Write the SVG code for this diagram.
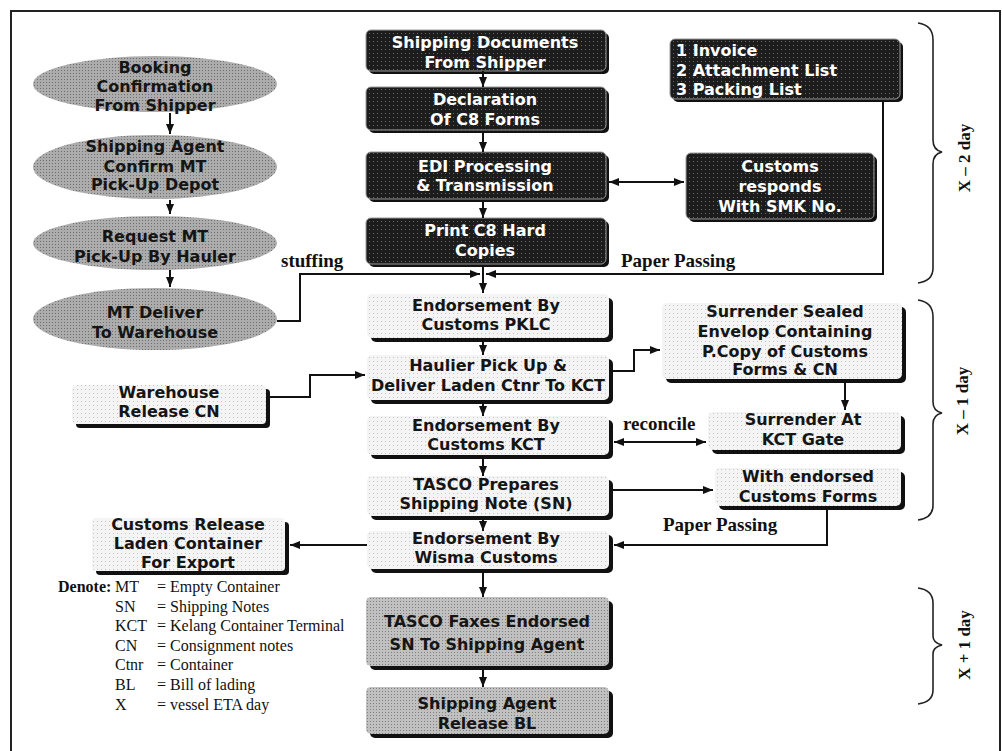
<svg xmlns="http://www.w3.org/2000/svg" width="1002" height="751" viewBox="0 0 1002 751">
<defs>
<pattern id="pDark" width="4" height="4" patternUnits="userSpaceOnUse">
<rect width="4" height="4" fill="#1c1c1c"/><rect x="1" y="1" width="1" height="1" fill="#6a6a6a"/>
</pattern>
<pattern id="pLight" width="4" height="4" patternUnits="userSpaceOnUse">
<rect width="4" height="4" fill="#f4f4f4"/><rect x="1" y="1" width="1" height="1" fill="#c4c4c4"/>
</pattern>
<pattern id="pGray" width="3" height="3" patternUnits="userSpaceOnUse">
<rect width="3" height="3" fill="#acacac"/><rect x="1" y="1" width="1" height="1" fill="#6e6e6e"/>
</pattern>
<pattern id="pMid" width="3" height="3" patternUnits="userSpaceOnUse">
<rect width="3" height="3" fill="#c0c0c0"/><rect x="1" y="1" width="1" height="1" fill="#808080"/>
</pattern>
<marker id="ah" viewBox="0 0 10 8" refX="10" refY="4" markerWidth="10" markerHeight="8" markerUnits="userSpaceOnUse" orient="auto-start-reverse">
<path d="M0,0 L10,4 L0,8 z" fill="#111"/>
</marker>
</defs>
<style>
.bt{font-family:"DejaVu Sans","Verdana",sans-serif;font-weight:bold;font-size:16px;text-anchor:middle}
.wt{fill:#fff}
.kt{fill:#151515}
.lt{font-family:"DejaVu Sans",sans-serif;font-weight:bold;font-size:16px;fill:#fff}
.sl{font-family:"Liberation Serif","Times New Roman",serif;font-weight:bold;font-size:19px;fill:#111}
.lg{font-family:"Liberation Serif","Times New Roman",serif;font-size:16px;fill:#111}
.br{font-family:"Liberation Serif","Times New Roman",serif;font-weight:bold;font-size:17px;fill:#111;text-anchor:middle}
.dark{fill:url(#pDark);stroke:#9a9a9a;stroke-width:1}
.dsh{fill:#111}
.light{fill:url(#pLight)}
.lsh{fill:#111}
.gray{fill:url(#pMid)}
.ell{fill:url(#pGray)}
.cn{fill:none;stroke:#111;stroke-width:2}
.brace{fill:none;stroke:#222;stroke-width:1.6}
.frame{fill:none;stroke:#222;stroke-width:2}
</style>
<rect width="1002" height="751" fill="#fff"/>
<path class="frame" d="M11,751 V11 H1000 V751"/>

<g id="booking">
<ellipse class="ell" cx="155" cy="84" rx="122" ry="28"/>
<text class="bt kt" x="155" y="73">Booking</text>
<text class="bt kt" x="155" y="92">Confirmation</text>
<text class="bt kt" x="155" y="111">From Shipper</text>
</g>
<g id="agent-confirm">
<ellipse class="ell" cx="155" cy="167" rx="122" ry="32"/>
<text class="bt kt" x="155" y="152">Shipping Agent</text>
<text class="bt kt" x="155" y="172">Confirm MT</text>
<text class="bt kt" x="155" y="190">Pick-Up Depot</text>
</g>
<g id="request-mt">
<ellipse class="ell" cx="155" cy="243" rx="122" ry="27"/>
<text class="bt kt" x="155" y="242">Request MT</text>
<text class="bt kt" x="155" y="262">Pick-Up By Hauler</text>
</g>
<g id="mt-deliver">
<ellipse class="ell" cx="155" cy="319" rx="122" ry="31"/>
<text class="bt kt" x="155" y="318">MT Deliver</text>
<text class="bt kt" x="155" y="338">To Warehouse</text>
</g>

<g id="shipping-docs">
<rect class="dsh" x="369" y="33" width="240" height="41" rx="5"/>
<rect class="dark" x="366" y="30" width="240" height="41" rx="5"/>
<text class="bt wt" x="485" y="48">Shipping Documents</text>
<text class="bt wt" x="485" y="68">From Shipper</text>
</g>
<g id="declaration">
<rect class="dsh" x="369" y="90" width="240" height="43" rx="5"/>
<rect class="dark" x="366" y="87" width="240" height="43" rx="5"/>
<text class="bt wt" x="485" y="105">Declaration</text>
<text class="bt wt" x="485" y="125">Of C8 Forms</text>
</g>
<g id="edi">
<rect class="dsh" x="369" y="155" width="240" height="47" rx="5"/>
<rect class="dark" x="366" y="152" width="240" height="47" rx="5"/>
<text class="bt wt" x="485" y="172">EDI Processing</text>
<text class="bt wt" x="485" y="191">&amp; Transmission</text>
</g>
<g id="print-c8">
<rect class="dsh" x="369" y="221" width="240" height="46" rx="5"/>
<rect class="dark" x="366" y="218" width="240" height="46" rx="5"/>
<text class="bt wt" x="485" y="236">Print C8 Hard</text>
<text class="bt wt" x="485" y="256">Copies</text>
</g>
<g id="doc-list">
<rect class="dsh" x="673" y="42" width="230" height="60" rx="5"/>
<rect class="dark" x="670" y="39" width="230" height="60" rx="5"/>
<text class="lt" x="676" y="56">1 Invoice</text>
<text class="lt" x="676" y="76">2 Attachment List</text>
<text class="lt" x="676" y="95">3 Packing List</text>
</g>
<g id="customs-responds">
<rect class="dsh" x="689" y="156" width="188" height="66" rx="5"/>
<rect class="dark" x="686" y="153" width="188" height="66" rx="5"/>
<text class="bt wt" x="780" y="172">Customs</text>
<text class="bt wt" x="780" y="192">responds</text>
<text class="bt wt" x="780" y="212">With SMK No.</text>
</g>

<g id="endorse-pklc">
<rect class="lsh" x="371" y="298" width="242" height="44" rx="5"/>
<rect class="light" x="367" y="294" width="242" height="44" rx="5"/>
<text class="bt kt" x="486" y="311">Endorsement By</text>
<text class="bt kt" x="486" y="330">Customs PKLC</text>
</g>
<g id="haulier">
<rect class="lsh" x="371" y="359" width="242" height="45" rx="5"/>
<rect class="light" x="367" y="355" width="242" height="45" rx="5"/>
<text class="bt kt" x="488" y="371">Haulier Pick Up &amp;</text>
<text class="bt kt" x="488" y="391">Deliver Laden Ctnr To KCT</text>
</g>
<g id="endorse-kct">
<rect class="lsh" x="371" y="420" width="242" height="39" rx="5"/>
<rect class="light" x="367" y="416" width="242" height="39" rx="5"/>
<text class="bt kt" x="486" y="431">Endorsement By</text>
<text class="bt kt" x="486" y="450">Customs KCT</text>
</g>
<g id="tasco-prepares">
<rect class="lsh" x="371" y="480" width="242" height="40" rx="5"/>
<rect class="light" x="367" y="476" width="242" height="40" rx="5"/>
<text class="bt kt" x="486" y="490">TASCO Prepares</text>
<text class="bt kt" x="486" y="509">Shipping Note (SN)</text>
</g>
<g id="endorse-wisma">
<rect class="lsh" x="371" y="535" width="242" height="38" rx="5"/>
<rect class="light" x="367" y="531" width="242" height="38" rx="5"/>
<text class="bt kt" x="486" y="544">Endorsement By</text>
<text class="bt kt" x="486" y="563">Wisma Customs</text>
</g>
<g id="tasco-faxes">
<rect class="lsh" x="370" y="601" width="243" height="69" rx="5"/>
<rect class="gray" x="366" y="597" width="243" height="69" rx="5"/>
<text class="bt kt" x="487" y="627">TASCO Faxes Endorsed</text>
<text class="bt kt" x="487" y="650">SN To Shipping Agent</text>
</g>
<g id="release-bl">
<rect class="lsh" x="370" y="691" width="243" height="47" rx="5"/>
<rect class="gray" x="366" y="687" width="243" height="47" rx="5"/>
<text class="bt kt" x="487" y="709">Shipping Agent</text>
<text class="bt kt" x="487" y="729">Release BL</text>
</g>

<g id="surrender-sealed">
<rect class="lsh" x="666" y="307" width="240" height="76" rx="5"/>
<rect class="light" x="662" y="303" width="240" height="76" rx="5"/>
<text class="bt kt" x="785" y="317">Surrender Sealed</text>
<text class="bt kt" x="785" y="337">Envelop Containing</text>
<text class="bt kt" x="785" y="357">P.Copy of Customs</text>
<text class="bt kt" x="785" y="375">Forms &amp; CN</text>
</g>
<g id="surrender-gate">
<rect class="lsh" x="712" y="416" width="193" height="38" rx="5"/>
<rect class="light" x="708" y="412" width="193" height="38" rx="5"/>
<text class="bt kt" x="803" y="425">Surrender At</text>
<text class="bt kt" x="803" y="445">KCT Gate</text>
</g>
<g id="endorsed-forms">
<rect class="lsh" x="719" y="472" width="186" height="38" rx="5"/>
<rect class="light" x="715" y="468" width="186" height="38" rx="5"/>
<text class="bt kt" x="808" y="482">With endorsed</text>
<text class="bt kt" x="808" y="502">Customs Forms</text>
</g>

<g id="warehouse-release">
<rect class="lsh" x="76" y="389" width="194" height="39" rx="4"/>
<rect class="light" x="72" y="385" width="194" height="39" rx="4"/>
<text class="bt kt" x="169" y="398">Warehouse</text>
<text class="bt kt" x="169" y="417">Release CN</text>
</g>
<g id="customs-release">
<rect class="lsh" x="96" y="522" width="193" height="53" rx="4"/>
<rect class="light" x="92" y="518" width="193" height="53" rx="4"/>
<text class="bt kt" x="188" y="530">Customs Release</text>
<text class="bt kt" x="188" y="549">Laden Container</text>
<text class="bt kt" x="188" y="568">For Export</text>
</g>

<g id="connectors">
<path class="cn" d="M170,113 V134" marker-end="url(#ah)"/>
<path class="cn" d="M170,200 V214" marker-end="url(#ah)"/>
<path class="cn" d="M170,270 V287" marker-end="url(#ah)"/>
<path class="cn" d="M483,71 V87" marker-end="url(#ah)"/>
<path class="cn" d="M483,133 V152" marker-end="url(#ah)"/>
<path class="cn" d="M483,202 V218" marker-end="url(#ah)"/>
<path class="cn" d="M483,267 V293" marker-end="url(#ah)"/>
<path class="cn" d="M277,321 H300 V274 H480" marker-end="url(#ah)"/>
<path class="cn" d="M883,101 V274 H486" marker-end="url(#ah)"/>
<path class="cn" d="M609,182 H684" marker-start="url(#ah)" marker-end="url(#ah)"/>
<path class="cn" d="M483,342 V355" marker-end="url(#ah)"/>
<path class="cn" d="M483,404 V416" marker-end="url(#ah)"/>
<path class="cn" d="M483,459 V476" marker-end="url(#ah)"/>
<path class="cn" d="M483,520 V531" marker-end="url(#ah)"/>
<path class="cn" d="M483,573 V597" marker-end="url(#ah)"/>
<path class="cn" d="M483,670 V687" marker-end="url(#ah)"/>
<path class="cn" d="M613,371 H634 V350 H660" marker-end="url(#ah)"/>
<path class="cn" d="M845,383 V410" marker-end="url(#ah)"/>
<path class="cn" d="M614,442 H706" marker-start="url(#ah)" marker-end="url(#ah)"/>
<path class="cn" d="M613,490 H713" marker-end="url(#ah)"/>
<path class="cn" d="M827,510 V545 H614" marker-end="url(#ah)"/>
<path class="cn" d="M367,545 H290" marker-end="url(#ah)"/>
<path class="cn" d="M270,397 H310 V375 H365" marker-end="url(#ah)"/>
<text class="sl" x="281" y="267">stuffing</text>
<text class="sl" x="621" y="267">Paper Passing</text>
<text class="sl" x="623" y="430">reconcile</text>
<text class="sl" x="663" y="531">Paper Passing</text>
</g>

<g id="day-braces">
<path class="brace" d="M918,23 Q933,25 933,40 V140 Q933,150 942,152 Q933,154 933,164 V268 Q933,281 918,283"/>
<text class="br" transform="translate(970,158) rotate(-90)">X – 2 day</text>
<path class="brace" d="M918,300 Q933,302 933,317 V402 Q933,411 942,413 Q933,415 933,424 V505 Q933,518 918,520"/>
<text class="br" transform="translate(968,401) rotate(-90)">X – 1 day</text>
<path class="brace" d="M918,588 Q933,590 933,603 V636 Q933,643 942,645 Q933,647 933,654 V690 Q933,702 918,704"/>
<text class="br" transform="translate(970,645) rotate(-90)">X + 1 day</text>
</g>

<g id="legend">
<text class="lg" x="58" y="592"><tspan font-weight="bold">Denote:</tspan></text>
<text class="lg" x="115" y="592">MT</text><text class="lg" x="157" y="592">= Empty Container</text>
<text class="lg" x="115" y="612">SN</text><text class="lg" x="157" y="612">= Shipping Notes</text>
<text class="lg" x="115" y="631">KCT</text><text class="lg" x="157" y="631">= Kelang Container Terminal</text>
<text class="lg" x="115" y="651">CN</text><text class="lg" x="157" y="651">= Consignment notes</text>
<text class="lg" x="115" y="670">Ctnr</text><text class="lg" x="157" y="670">= Container</text>
<text class="lg" x="115" y="690">BL</text><text class="lg" x="157" y="690">= Bill of lading</text>
<text class="lg" x="115" y="710">X</text><text class="lg" x="157" y="710">= vessel ETA day</text>
</g>
</svg>
